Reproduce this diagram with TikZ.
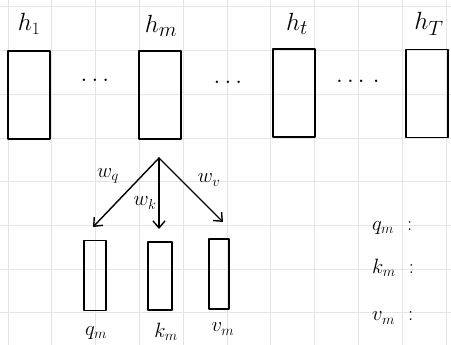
\documentclass[tikz,border=0pt]{standalone}
\usetikzlibrary{arrows.meta}
\begin{document}
\begin{tikzpicture}[x=1pt, y=-1pt, line cap=round, line join=round,
    hbox/.style={draw, line width=1.6pt, minimum width=42pt, minimum height=88pt, inner sep=0pt},
    sbox/.style={draw, line width=1.6pt, minimum width=22pt, minimum height=70pt, inner sep=0pt},
    lbl/.style={font=\Huge, inner sep=0pt},
    sub/.style={font=\huge, inner sep=0pt},
    proj/.style={line width=1.4pt, -{Straight Barb[length=7pt,width=12pt]}}]

  \useasboundingbox (0,0) rectangle (451,345);

  % grid paper
  \foreach \i in {0,...,10}
    \draw[black!10, line width=1pt] (8+43.8*\i,0) -- (8+43.8*\i,345);
  \foreach \j in {0,...,7}
    \draw[black!10, line width=1pt] (0,7+43.7*\j) -- (451,7+43.7*\j);

  % hidden states
  \node[hbox] (h1) at (29,95) {};
  \node[hbox] (hm) at (160,95) {};
  \node[hbox] (ht) at (294,93) {};
  \node[hbox] (hT) at (427,93.5) {};

  \node[lbl] (lh1) at (29,24) {$h_{\scriptscriptstyle 1}$};
  \node[lbl] (lhm) at (161,26) {$h_m$};
  \node[lbl] (lht) at (297,24) {$h_t$};
  \node[lbl] (lhT) at (429,24) {$h_T$};

  \node[lbl] (d1) at (95,80) {$\ldots$};
  \node[lbl] (d2) at (228,82) {$\ldots$};
  \node[lbl] (d3) at (358,81) {$\ldots\,.$};

%  projections of h_m
  \coordinate (src) at (159,158);
  \coordinate (tq) at (93,227);
  \coordinate (tk) at (159,229);
  \coordinate (tv) at (223,222);

  \draw[proj] (src) -- (tq);
  \draw[proj] (src) -- (tk);
  \draw[proj] (src) -- (tv);

  \node[sub] (wq) at (108,176) {$w_q$};
  \node[sub] (wk) at (145,203) {$w_k$};
  \node[sub] (wv) at (209,180) {$w_v$};

  \node[sbox] (q) at (95,275.5) {};
  \node[sbox, minimum width=24pt, minimum height=68pt] (k) at (160,276) {};
  \node[sbox, minimum width=20pt] (v) at (219,274) {};

  \node[sub] (lq) at (96,333) {$q_m$};
  \node[sub] (lk) at (166,332) {$k_m$};
  \node[sub] (lv) at (223,329) {$v_m$};

  % notes on the right
  \node[sub, anchor=west] (nq) at (372,228) {$q_m$\,\, :};
  \node[sub, anchor=west] (nk) at (372,268) {$k_m$\,\, :};
  \node[sub, anchor=west] (nv) at (372,318) {$v_m$\,\, :};

\end{tikzpicture}
\end{document}
